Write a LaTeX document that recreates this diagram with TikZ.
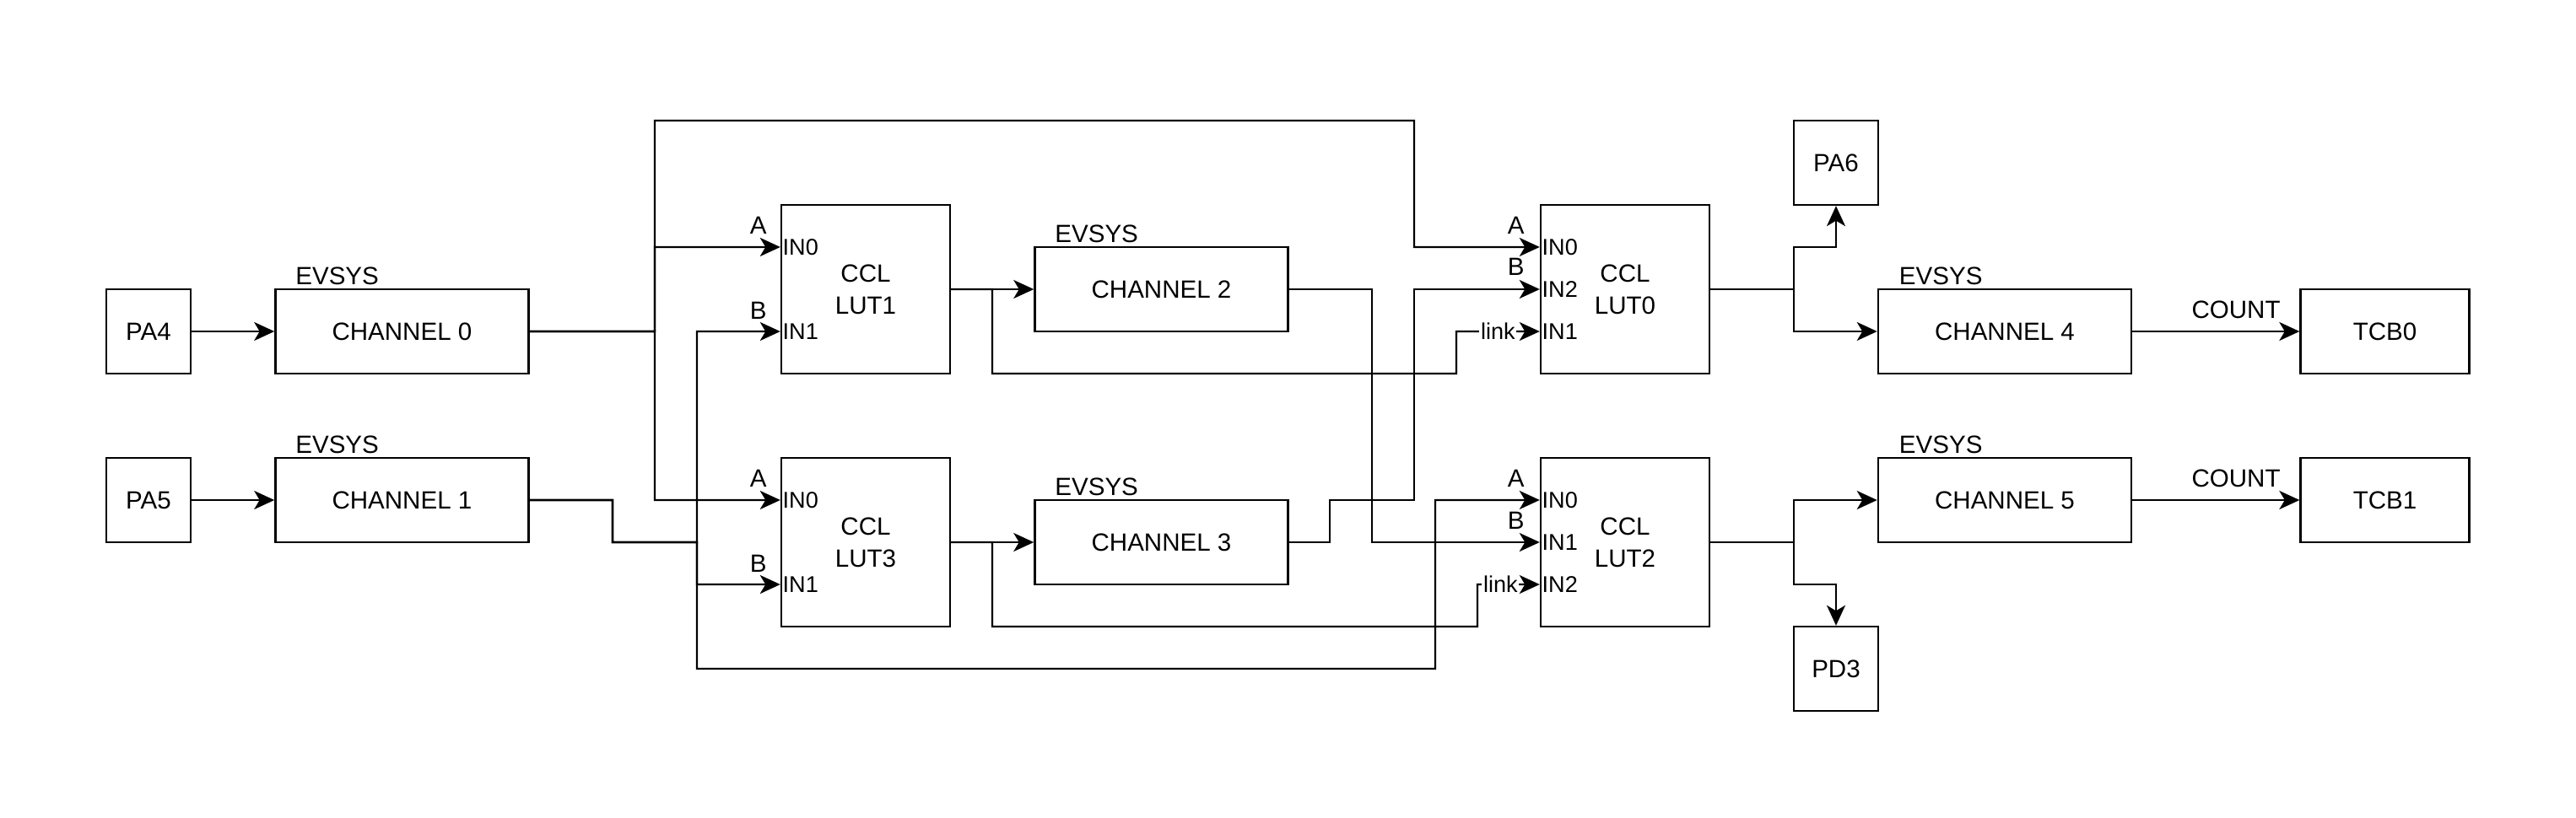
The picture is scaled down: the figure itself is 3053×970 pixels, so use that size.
\documentclass[tikz,border=0pt]{standalone}
\usepackage{fontspec}
\setmainfont{Liberation Sans}
\usetikzlibrary{positioning}
\usetikzlibrary{arrows.meta}

\begin{document}
\begin{tikzpicture}[x=0.01cm,y=-0.01cm,->,>={Stealth[length=2.4mm,width=2.2mm,inset=0.65mm]},
	line width=0.65pt,font={\fontsize{8.4}{10.8}\selectfont},node distance=0.98cm,
	pin node/.style={rectangle,draw,minimum width=1cm,minimum height=1cm},
	chan node/.style={rectangle,draw,minimum width=3cm,minimum height=1cm},
	lut node/.style={rectangle,draw,minimum width=2cm,minimum height=2cm,align=center},
	tcb node/.style={rectangle,draw,minimum width=2cm,minimum height=1cm},
	evsys label/.style={anchor=base west,inner sep=0pt},
	ab label/.style={anchor=base east,inner sep=0pt},
	in label/.style={anchor=west,inner sep=0.5pt,font={\fontsize{7.7}{9}\selectfont}},
	link label/.style={fill=white,inner sep=0.5pt,font={\fontsize{7.7}{9}\selectfont}},
	count label/.style={pos=0.62,anchor=base,yshift=1.5mm}]
	
	\useasboundingbox (0,0) rectangle (3053,970);
	
	% inputs
	\node[pin node] (pa4) at (176,393) {PA4};
	\node[chan node] (ch0) [right=of pa4] {CHANNEL 0};
	\node[pin node] (pa5) at (176,593) {PA5};
	\node[chan node] (ch1) [right=of pa5] {CHANNEL 1};
	
	% CCL
	\node[lut node] (lut1) at (1026,343) {CCL\\LUT1};
	\node[lut node] (lut3) at (1026,643) {CCL\\LUT3};
	\node[chan node] (ch2) [right=of lut1] {CHANNEL 2};
	\node[chan node] (ch3) [right=of lut3] {CHANNEL 3};
	\node[lut node] (lut0) at (1926,343) {CCL\\LUT0};
	\node[lut node] (lut2) at (1926,643) {CCL\\LUT2};
	
	% outputs
	\node[pin node] (pa6) at (2176,193) {PA6};
	\node[pin node] (pd3) at (2176,793) {PD3};
	\node[chan node] (ch4) at (2376,393) {CHANNEL 4};
	\node[chan node] (ch5) at (2376,593) {CHANNEL 5};
	\node[tcb node] (tcb0) [right=1.98cm of ch4] {TCB0};
	\node[tcb node] (tcb1) [right=1.98cm of ch5] {TCB1};
	
	\node[evsys label] (ev0) at ([xshift=2.4mm,yshift=0.4mm]ch0.north west) {EVSYS};
	\node[evsys label] (ev1) at ([xshift=2.4mm,yshift=0.4mm]ch1.north west) {EVSYS};
	\node[evsys label] (ev2) at ([xshift=2.4mm,yshift=0.4mm]ch2.north west) {EVSYS};
	\node[evsys label] (ev3) at ([xshift=2.4mm,yshift=0.4mm]ch3.north west) {EVSYS};
	\node[evsys label] (ev4) at ([xshift=2.5mm,yshift=0.4mm]ch4.north west) {EVSYS};
	\node[evsys label] (ev5) at ([xshift=2.5mm,yshift=0.4mm]ch5.north west) {EVSYS};
	
	% lut inputs
	\node[in label] (l1i0) at ([yshift=5mm]lut1.west) {IN0};
	\node[in label] (l1i1) at ([yshift=-5mm]lut1.west) {IN1};
	\node[in label] (l3i0) at ([yshift=5mm]lut3.west) {IN0};
	\node[in label] (l3i1) at ([yshift=-5mm]lut3.west) {IN1};
	\node[in label] (l0i0) at ([yshift=5mm]lut0.west) {IN0};
	\node[in label] (l0i2) at (lut0.west) {IN2};
	\node[in label] (l0i1) at ([yshift=-5mm]lut0.west) {IN1};
	\node[in label] (l2i0) at ([yshift=5mm]lut2.west) {IN0};
	\node[in label] (l2i1) at (lut2.west) {IN1};
	\node[in label] (l2i2) at ([yshift=-5mm]lut2.west) {IN2};
	
	\node[ab label] (l1a) at ([xshift=-1.5mm,yshift=6.5mm]lut1.west) {A};
	\node[ab label] (l1b) at ([xshift=-1.5mm,yshift=-3.5mm]lut1.west) {B};
	\node[ab label] (l3a) at ([xshift=-1.5mm,yshift=6.5mm]lut3.west) {A};
	\node[ab label] (l3b) at ([xshift=-1.5mm,yshift=-3.5mm]lut3.west) {B};
	\node[ab label] (l0a) at ([xshift=-1.7mm,yshift=6.5mm]lut0.west) {A};
	\node[ab label] (l0b) at ([xshift=-1.7mm,yshift=1.6mm]lut0.west) {B};
	\node[ab label] (l2a) at ([xshift=-1.7mm,yshift=6.5mm]lut2.west) {A};
	\node[ab label] (l2b) at ([xshift=-1.7mm,yshift=1.5mm]lut2.west) {B};
	
	\draw (pa4) -- (ch0);
	\draw (pa5) -- (ch1);
	
	% channel 0 bus
	\draw (ch0.east) -| (776,293) -- ([yshift=5mm]lut1.west);
	\draw (ch0.east) -| (776,593) -- ([yshift=5mm]lut3.west);
	\draw (ch0.east) -| (776,143) -| (1676,293) -- ([yshift=5mm]lut0.west);
	
	% channel 1 bus
	\draw (ch1.east) -| (726,643) -| (826,393) -- ([yshift=-5mm]lut1.west);
	\draw (ch1.east) -| (726,643) -| (826,693) -- ([yshift=-5mm]lut3.west);
	\draw (ch1.east) -| (726,643) -| (826,793) -| (1701,593) -- ([yshift=5mm]lut2.west);
	
	% lut1 and lut3
	\draw (lut1) -- (ch2);
	\draw (lut1.east) -| (1176,443) -| (1726,393) -- node[link label] (lk0) {link} ([yshift=-5mm]lut0.west);
	\draw (lut3) -- (ch3);
	\draw (lut3.east) -| (1176,743) -| (1751,693) -- node[link label,pos=0.37] (lk2) {link} ([yshift=-5mm]lut2.west);
	
	\draw (ch2.east) -| (1626,643) -- (lut2.west);
	\draw (ch3.east) -| (1576,593) -| (1676,343) -- (lut0.west);
	
	% lut0 and lut2
	\draw (lut0.east) -| (2126,293) -| (pa6.south);
	\draw (lut0.east) -| (2126,393) -- (ch4.west);
	\draw (lut2.east) -| (2126,593) -- (ch5.west);
	\draw (lut2.east) -| (2126,693) -| (pd3.north);
	
	\draw (ch4) -- node[count label] (cnt0) {COUNT} (tcb0);
	\draw (ch5) -- node[count label] (cnt1) {COUNT} (tcb1);
\end{tikzpicture}
\end{document}
